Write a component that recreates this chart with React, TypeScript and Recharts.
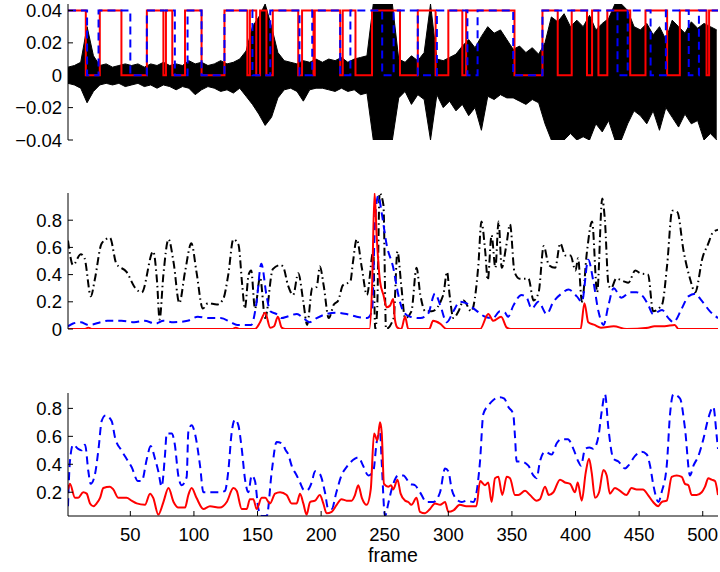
import { ComposedChart, Line, Area, XAxis, YAxis } from "recharts";

const FONT = "'Liberation Sans', Arial, Helvetica, sans-serif";

// axis ticks
const frameTicks = [50, 100, 150, 200, 250, 300, 350, 400, 450, 500];
const waveTicks = [126, 252, 377, 503];
const topYTicks = [-0.04, -0.02, 0, 0.02, 0.04];
const midYTicks = [0, 0.2, 0.4, 0.6, 0.8];
const lowYTicks = [0.2, 0.4, 0.6, 0.8];

// panel 1: waveform envelope (read per ~5 frames)
const waveFrames = [
  1, 6, 11, 16, 21, 26, 31, 36, 41, 46, 51, 56, 61, 66, 71, 76, 81, 86, 91, 96,
  101, 106, 111, 116, 121, 126, 131, 136, 141, 146, 151, 156, 161, 166, 171, 176, 181, 186, 191, 196,
  201, 206, 211, 216, 221, 226, 231, 236, 241, 246, 251, 256, 261, 266, 271, 276, 281, 286, 291, 296,
  301, 306, 311, 316, 321, 326, 331, 336, 341, 346, 351, 356, 361, 366, 371, 376, 381, 386, 391, 396,
  401, 406, 411, 416, 421, 426, 431, 436, 441, 446, 451, 456, 461, 466, 471, 476, 481, 486, 491, 496,
  501, 506, 511,
];
const waveHigh = [
  0.005, 0.006, 0.008, 0.03, 0.012, 0.006, 0.007, 0.005, 0.006, 0.007,
  0.006, 0.007, 0.005, 0.007, 0.006, 0.008, 0.006, 0.007, 0.006, 0.009,
  0.007, 0.008, 0.006, 0.007, 0.009, 0.007, 0.008, 0.01, 0.015, 0.03,
  0.036, 0.044, 0.03, 0.014, 0.009, 0.008, 0.007, 0.009, 0.008, 0.01,
  0.008, 0.01, 0.009, 0.011, 0.008, 0.01, 0.011, 0.012, 0.044, 0.044,
  0.044, 0.044, 0.01, 0.008, 0.012, 0.009, 0.014, 0.044, 0.01, 0.009,
  0.011, 0.013, 0.018, 0.022, 0.017, 0.024, 0.03, 0.026, 0.028, 0.022,
  0.016, 0.018, 0.014, 0.017, 0.013, 0.02, 0.036, 0.033, 0.038, 0.03,
  0.034, 0.03, 0.037, 0.028, 0.032, 0.035, 0.044, 0.044, 0.04, 0.03,
  0.028, 0.032, 0.025, 0.03, 0.022, 0.034, 0.03, 0.026, 0.033, 0.029,
  0.032, 0.03, 0.028,
];
const waveLow = [
  -0.005, -0.006, -0.008, -0.017, -0.01, -0.006, -0.005, -0.006, -0.005, -0.007,
  -0.006, -0.005, -0.007, -0.006, -0.008, -0.006, -0.007, -0.009, -0.007, -0.008,
  -0.012, -0.009, -0.007, -0.008, -0.01, -0.009, -0.011, -0.008, -0.013, -0.018,
  -0.024, -0.031, -0.026, -0.014, -0.009, -0.008, -0.01, -0.016, -0.009, -0.008,
  -0.008, -0.009, -0.01, -0.008, -0.01, -0.009, -0.012, -0.011, -0.04, -0.04,
  -0.04, -0.04, -0.014, -0.01, -0.018, -0.012, -0.015, -0.04, -0.012, -0.02,
  -0.016, -0.022, -0.018, -0.025, -0.02, -0.034, -0.013, -0.015, -0.012, -0.014,
  -0.014, -0.016, -0.018, -0.015, -0.017, -0.03, -0.04, -0.04, -0.04, -0.036,
  -0.04, -0.038, -0.04, -0.03, -0.035, -0.028, -0.04, -0.04, -0.03, -0.022,
  -0.025, -0.03, -0.022, -0.034, -0.02, -0.026, -0.032, -0.024, -0.03, -0.028,
  -0.04, -0.036, -0.04,
];

// panel 1: on/off decisions [frame, level]
const redGate: [number, number][] = [
  [1, 0.04], [15, 0], [26, 0.04], [43, 0], [63, 0.04], [76, 0], [78, 0.04], [83, 0],
  [93, 0.04], [106, 0], [124, 0.04], [142, 0], [144, 0.04], [149, 0], [152, 0.04], [157, 0],
  [162, 0.04], [182, 0], [185, 0.04], [194, 0], [195, 0.04], [215, 0], [217, 0.04], [227, 0],
  [240, 0.04], [262, 0], [276, 0.04], [290, 0], [300, 0.04], [311, 0], [314, 0.04], [352, 0],
  [374, 0.04], [386, 0], [397, 0.04], [409, 0], [413, 0.04], [418, 0], [425, 0.04], [443, 0],
  [455, 0.04], [472, 0], [482, 0.04], [503, 0], [505, 0.04], [512, 0.04],
];
const blueGate: [number, number][] = [
  [1, 0.04], [16, 0], [25, 0.04], [50, 0], [63, 0.04], [85, 0], [95, 0.04], [106, 0],
  [124, 0.04], [146, 0], [160, 0.04], [183, 0], [193, 0.04], [215, 0], [223, 0.04], [248, 0],
  [257, 0.04], [276, 0], [291, 0.04], [315, 0], [323, 0.04], [351, 0], [374, 0.04], [433, 0],
  [441, 0.04], [459, 0], [471, 0.04], [489, 0], [497, 0.04], [512, 0.04],
];

// panel 2
const midBlack: [number, number][] = [
  [1, 0.65], [5, 0.47], [11, 0.55], [14, 0.52], [19, 0.24], [22, 0.36], [27.5, 0.63], [34, 0.67],
  [39, 0.48], [47, 0.42], [54, 0.3], [59, 0.27], [68, 0.57], [71, 0.35], [73, 0.07], [76, 0.4],
  [80, 0.66], [84, 0.49], [88.5, 0.19], [93, 0.42], [98, 0.63], [102, 0.42], [107, 0.15], [111, 0.19],
  [118, 0.18], [123, 0.22], [127, 0.4], [131, 0.66], [135, 0.62], [138, 0.32], [140, 0.15], [143, 0.4],
  [145, 0.43], [148, 0.15], [152, 0.38], [156, 0.08], [162, 0.44], [168, 0.47], [170, 0.46], [174, 0.32],
  [178, 0.25], [182, 0.41], [186, 0.2], [189, 0.03], [193, 0.3], [196.5, 0.31], [199, 0.46], [202, 0.32],
  [206, 0.08], [210, 0.18], [213.5, 0.21], [217, 0.32], [223, 0.35], [225, 0.49], [228, 0.66], [232, 0.45],
  [236, 0.25], [241, 0.57], [242.5, 0.0], [244, 0.13], [246, 1.0], [249, 0.91], [251, 0.0], [257, 0.08],
  [260, 0.57], [263, 0.32], [266, 0.08], [271, 0.13], [275, 0.45], [278, 0.25], [282, 0.13], [287, 0.13],
  [296, 0.25], [299, 0.42], [301, 0.25], [304, 0.08], [308, 0.13], [312, 0.21], [318, 0.13], [323.6, 0.47],
  [326, 0.79], [329, 0.57], [331, 0.36], [334, 0.69], [337, 0.45], [339.5, 0.79], [342, 0.45], [345.5, 0.61],
  [348.5, 0.77], [352, 0.42], [356, 0.37], [363, 0.37], [367, 0.21], [371, 0.27], [375, 0.61], [379, 0.47],
  [384, 0.45], [388, 0.63], [392, 0.54], [396, 0.54], [400, 0.43], [402, 0.52], [405, 0.2], [409, 0.57],
  [413, 0.79], [417, 0.27], [421, 0.96], [423, 0.81], [426, 0.32], [428, 0.3], [432, 0.37], [438, 0.35],
  [441.5, 0.34], [447, 0.43], [451, 0.41], [457, 0.4], [461, 0.13], [468, 0.18], [472, 0.47], [476, 0.87],
  [480, 0.86], [485, 0.57], [490, 0.37], [494, 0.27], [500, 0.53], [504, 0.62], [508, 0.71], [512, 0.73],
];
const midBlue: [number, number][] = [
  [1, 0.02], [5, 0.04], [11, 0.05], [17, 0.03], [27, 0.05], [32, 0.06], [43, 0.06], [53, 0.05],
  [61, 0.06], [70, 0.04], [76, 0.06], [84, 0.05], [95, 0.06], [103, 0.09], [111, 0.08], [121, 0.08],
  [129, 0.05], [134, 0.03], [145, 0.03], [149, 0.18], [153, 0.48], [157, 0.25], [160, 0.13], [165, 0.11],
  [169, 0.08], [173, 0.09], [181, 0.11], [186, 0.08], [191, 0.05], [196.5, 0.08], [204, 0.11], [212, 0.12],
  [220, 0.11], [228, 0.09], [236, 0.08], [240, 0.13], [242.5, 0.81], [245, 0.98], [247.5, 0.86], [251.5, 0.62],
  [256.7, 0.45], [260.7, 0.25], [264.6, 0.13], [270, 0.09], [278, 0.08], [284, 0.11], [289.5, 0.26], [293.5, 0.18],
  [298.7, 0.05], [304, 0.13], [309, 0.2], [314, 0.19], [320, 0.15], [329, 0.09], [335, 0.08], [340.6, 0.13],
  [344.5, 0.12], [347, 0.09], [351, 0.17], [357.6, 0.25], [361.6, 0.23], [365.5, 0.15], [370.8, 0.2], [377.3, 0.11],
  [382.6, 0.2], [389, 0.26], [394.4, 0.29], [401, 0.24], [405, 0.2], [410, 0.51], [414, 0.35], [418, 0.13],
  [422, 0.03], [426, 0.18], [430, 0.3], [436, 0.23], [443, 0.27], [448, 0.27], [453, 0.24], [457, 0.18],
  [461, 0.11], [468, 0.14], [473, 0.08], [477, 0.05], [483.5, 0.15], [488.7, 0.24], [494, 0.26], [499, 0.21],
  [505.7, 0.13], [512, 0.08],
];
const midRed: [number, number][] = [
  [1, 0], [14, 0], [17, 0.01], [20, 0], [130, 0], [133, 0.01], [136, 0], [148, 0],
  [152, 0.05], [156, 0.12], [160, 0.01], [163, 0.02], [166, 0.09], [169, 0.01], [172, 0], [238, 0],
  [240, 0.3], [242, 1.0], [243.7, 0.68], [246.3, 0.35], [249, 0.25], [251.5, 0.16], [254, 0.17], [256.7, 0.22],
  [258, 0.07], [260, 0.01], [263, 0], [266, 0.09], [268.5, 0], [285, 0], [288, 0.06], [293.5, 0.04],
  [298.7, 0], [325, 0], [331.4, 0.11], [335.4, 0.06], [341.5, 0.09], [346, 0.01], [349, 0], [404, 0],
  [407, 0.19], [410, 0.05], [415, 0.03], [420, 0.01], [430, 0.02], [440, 0], [457, 0.01], [462, 0.02],
  [470, 0.02], [478, 0.03], [481, 0], [512, 0],
];

// panel 3
const lowBlue: [number, number][] = [
  [1, 0.1], [2.5, 0.42], [5, 0.54], [9, 0.51], [11.7, 0.5], [14.4, 0.54], [17, 0.35], [18.8, 0.26],
  [22, 0.32], [25, 0.51], [27.5, 0.71], [30.6, 0.75], [35.3, 0.71], [38, 0.59], [43, 0.5], [47, 0.44],
  [51, 0.38], [56, 0.28], [59, 0.28], [63, 0.44], [66, 0.53], [69.4, 0.44], [72, 0.35], [74.6, 0.24],
  [77.2, 0.46], [78.6, 0.62], [82.5, 0.62], [85, 0.54], [87.7, 0.32], [90.4, 0.25], [94.3, 0.31], [95.6, 0.63],
  [98.2, 0.68], [100.8, 0.62], [104.8, 0.39], [107.4, 0.2], [112.6, 0.2], [120.5, 0.2], [124.4, 0.21], [127, 0.35],
  [129.7, 0.63], [132.3, 0.72], [134.9, 0.68], [137.6, 0.51], [140.2, 0.29], [142.8, 0.2], [145.4, 0.32], [148, 0.28],
  [150.7, 0.08], [153.3, 0.03], [157.2, 0.03], [161.2, 0.35], [165, 0.56], [170.4, 0.54], [171.6, 0.51], [174.2, 0.47],
  [176.8, 0.39], [180.8, 0.32], [183.4, 0.27], [186, 0.22], [188.6, 0.21], [192.6, 0.27], [195.2, 0.35], [199, 0.33],
  [203, 0.2], [205.6, 0.08], [208.3, 0.08], [212, 0.2], [216, 0.32], [220, 0.38], [226.6, 0.44], [229.2, 0.45],
  [233, 0.39], [237, 0.32], [241, 0.35], [243.7, 0.56], [246.3, 0.63], [247.6, 0.42], [250.2, 0.03], [252.8, 0.12],
  [255.4, 0.22], [260.7, 0.32], [264.6, 0.32], [270, 0.26], [273.8, 0.25], [277.7, 0.2], [283, 0.13], [288.2, 0.13],
  [293.5, 0.2], [297.4, 0.37], [300, 0.35], [302.7, 0.22], [306.6, 0.15], [310.5, 0.13], [314.4, 0.14], [319.7, 0.13],
  [324.9, 0.42], [327.5, 0.76], [331.4, 0.82], [335.4, 0.86], [340.6, 0.88], [344, 0.87], [347.2, 0.81], [351, 0.76],
  [352.4, 0.6], [353.7, 0.42], [357, 0.42], [362.9, 0.39], [366.8, 0.32], [369.4, 0.3], [372, 0.42], [376, 0.49],
  [381.3, 0.47], [385.2, 0.55], [389, 0.58], [394, 0.58], [398.3, 0.51], [402.2, 0.42], [404.3, 0.39], [407.5, 0.51],
  [411, 0.52], [414, 0.51], [418, 0.6], [420.6, 0.78], [423.2, 0.9], [425.8, 0.66], [429.8, 0.44], [433.7, 0.42],
  [438.9, 0.37], [441.5, 0.39], [446.8, 0.46], [452, 0.49], [456, 0.47], [458.6, 0.39], [461.2, 0.25], [465.2, 0.13],
  [467.7, 0.2], [471.7, 0.39], [474.3, 0.76], [476.9, 0.9], [482.2, 0.87], [486, 0.66], [490, 0.32], [492.7, 0.39],
  [496.6, 0.46], [500.5, 0.58], [504.4, 0.73], [508.3, 0.81], [511, 0.6], [512, 0.51],
];
const lowRed: [number, number][] = [
  [1, 0.22], [2.5, 0.26], [6.5, 0.16], [9, 0.16], [13, 0.2], [15.7, 0.19], [18.3, 0.12], [21, 0.1],
  [23.5, 0.12], [26.2, 0.16], [28.8, 0.23], [34, 0.24], [36.6, 0.22], [40.6, 0.16], [47, 0.16], [51, 0.14],
  [55, 0.12], [61.5, 0.11], [65.5, 0.19], [68, 0.16], [72, 0.04], [76, 0.13], [80, 0.23], [84, 0.13],
  [87.7, 0.09], [93, 0.09], [95.6, 0.18], [98.2, 0.23], [102, 0.16], [107.4, 0.08], [112.6, 0.1], [120.5, 0.09],
  [125.8, 0.13], [131, 0.23], [133.6, 0.21], [137.6, 0.08], [141.5, 0.08], [144, 0.15], [146.7, 0.15], [149.3, 0.08],
  [153.3, 0.16], [156, 0.16], [159.8, 0.12], [163.8, 0.19], [167.7, 0.2], [172.9, 0.18], [176.8, 0.12], [180.8, 0.12],
  [183.4, 0.19], [186, 0.12], [188.6, 0.04], [191.3, 0.13], [195.2, 0.14], [199, 0.18], [201.7, 0.12], [204.3, 0.05],
  [208.3, 0.06], [212.2, 0.11], [216, 0.15], [220, 0.14], [224, 0.14], [226.6, 0.18], [229.2, 0.25], [232, 0.16],
  [235.8, 0.11], [239, 0.22], [241.6, 0.62], [244.2, 0.57], [246.3, 0.7], [247.6, 0.63], [249.4, 0.26], [252.8, 0.24],
  [255, 0.25], [256.7, 0.22], [260, 0.29], [262.5, 0.19], [266, 0.14], [268.5, 0.13], [271, 0.11], [275, 0.16],
  [277.7, 0.06], [281.7, 0.05], [285.6, 0.08], [289.5, 0.12], [293.5, 0.11], [297.4, 0.13], [300, 0.06], [304, 0.07],
  [309, 0.11], [314, 0.1], [322, 0.1], [325, 0.28], [328.8, 0.25], [331.4, 0.27], [334, 0.13], [336.7, 0.3],
  [339.3, 0.31], [342.4, 0.18], [345.9, 0.31], [348.5, 0.3], [352.4, 0.18], [355, 0.18], [360.3, 0.21], [364.2, 0.18],
  [369.4, 0.14], [372, 0.15], [376, 0.24], [379, 0.18], [382.6, 0.2], [387.8, 0.29], [391.7, 0.27], [395.7, 0.26],
  [399.6, 0.2], [401.7, 0.27], [404.9, 0.14], [408, 0.34], [410.6, 0.44], [412.7, 0.34], [415.3, 0.16], [418.5, 0.2],
  [421.9, 0.36], [424.5, 0.32], [427, 0.19], [431, 0.23], [435, 0.21], [440, 0.18], [444, 0.23], [448, 0.22],
  [453, 0.22], [457, 0.18], [461, 0.13], [465, 0.1], [467.7, 0.13], [471.7, 0.14], [475.6, 0.31], [479.5, 0.32],
  [483.5, 0.31], [486, 0.26], [488.7, 0.25], [491.3, 0.18], [495.2, 0.18], [499.2, 0.2], [501.8, 0.24], [504.4, 0.3],
  [507, 0.29], [509.6, 0.28], [512, 0.18],
];

const toPoints = (pairs: [number, number][]) => pairs.map(([f, v]) => ({ f, v }));
const waveData = waveFrames.map((f, i) => ({ f, band: [waveLow[i], waveHigh[i]] }));

const tickStyle = { fontSize: 18.5, fill: "#000", fontFamily: FONT };
const line = { stroke: "#000", strokeWidth: 1 };
const blank = () => "";

const fmtTop = (v: number) =>
  v === 0 ? "0" : (v < 0 ? "\u2212" : "") + Math.abs(v).toFixed(2);
const fmtOne = (v: number) => (v === 0 ? "0" : v.toFixed(1));

function frameAxes(ticks: number[], labels: boolean, bottomHeight: number) {
  return [
    <XAxis
      key="xb"
      xAxisId="b"
      type="number"
      dataKey="f"
      domain={[1, 512]}
      allowDataOverflow
      ticks={ticks}
      interval={0}
      height={bottomHeight}
      tickSize={-5}
      tickMargin={labels ? 17 : 0}
      tickFormatter={labels ? (v: number) => String(v) : blank}
      tick={tickStyle}
      axisLine={line}
      tickLine={line}
      label={
        labels
          ? { value: "frame", position: "insideBottom", offset: 10, style: { fontSize: 19.5, fill: "#000", fontFamily: FONT } }
          : undefined
      }
    />,
    <XAxis
      key="xt"
      xAxisId="t"
      orientation="top"
      type="number"
      dataKey="f"
      domain={[1, 512]}
      allowDataOverflow
      ticks={ticks}
      interval={0}
      height={0}
      tickSize={-5}
      tickFormatter={blank}
      axisLine={line}
      tickLine={line}
    />,
  ];
}

function valueAxes(domain: [number, number], ticks: number[], fmt: (v: number) => string) {
  return [
    <YAxis
      key="yl"
      yAxisId="l"
      type="number"
      domain={domain}
      allowDataOverflow
      ticks={ticks}
      interval={0}
      width={68}
      tickSize={-5}
      tickMargin={11}
      tickFormatter={fmt}
      tick={tickStyle}
      axisLine={line}
      tickLine={line}
    />,
    <YAxis
      key="yr"
      yAxisId="r"
      orientation="right"
      type="number"
      domain={domain}
      allowDataOverflow
      ticks={ticks}
      interval={0}
      width={0}
      tickSize={-5}
      tickFormatter={blank}
      axisLine={line}
      tickLine={line}
    />,
  ];
}

const margin = { top: 4, right: 2, bottom: 12, left: 0 };

export default function App() {
  return (
    <div style={{ position: "absolute", left: 0, top: 0, width: 720, height: 572, background: "#fff" }}>
      <div style={{ position: "absolute", left: 0, top: 0 }}>
        <ComposedChart width={720} height={152} margin={margin}>
          {frameAxes(waveTicks, false, 0)}
          {valueAxes([-0.04, 0.044], topYTicks, fmtTop)}
          <Area
            xAxisId="b"
            yAxisId="l"
            data={waveData}
            dataKey="band"
            type="linear"
            stroke="#000"
            strokeWidth={1}
            fill="#000"
            fillOpacity={1}
            isAnimationActive={false}
            dot={false}
            activeDot={false}
          />
          <Line
            xAxisId="b"
            yAxisId="l"
            data={toPoints(redGate)}
            dataKey="v"
            type="stepAfter"
            stroke="#ff0000"
            strokeWidth={2}
            dot={false}
            isAnimationActive={false}
          />
          <Line
            xAxisId="b"
            yAxisId="l"
            data={toPoints(blueGate)}
            dataKey="v"
            type="stepAfter"
            stroke="#0000ff"
            strokeWidth={2}
            strokeDasharray="8 5"
            dot={false}
            isAnimationActive={false}
          />
        </ComposedChart>
      </div>

      <div style={{ position: "absolute", left: 0, top: 189 }}>
        <ComposedChart width={720} height={152} margin={margin}>
          {frameAxes(frameTicks, false, 0)}
          {valueAxes([0, 1], midYTicks, fmtOne)}
          <Line
            xAxisId="b"
            yAxisId="l"
            data={toPoints(midBlack)}
            dataKey="v"
            type="monotone"
            stroke="#000"
            strokeWidth={2}
            strokeDasharray="8 3.5 1.5 3.5"
            dot={false}
            isAnimationActive={false}
          />
          <Line
            xAxisId="b"
            yAxisId="l"
            data={toPoints(midBlue)}
            dataKey="v"
            type="monotone"
            stroke="#0000ff"
            strokeWidth={2}
            strokeDasharray="8 5"
            dot={false}
            isAnimationActive={false}
          />
          <Line
            xAxisId="b"
            yAxisId="l"
            data={toPoints(midRed)}
            dataKey="v"
            type="monotone"
            stroke="#ff0000"
            strokeWidth={2}
            dot={false}
            isAnimationActive={false}
          />
        </ComposedChart>
      </div>

      <div style={{ position: "absolute", left: 0, top: 389 }}>
        <ComposedChart width={720} height={183} margin={{ top: 4, right: 2, bottom: 0, left: 0 }}>
          {frameAxes(frameTicks, true, 56)}
          {valueAxes([0.03, 0.91], lowYTicks, fmtOne)}
          <Line
            xAxisId="b"
            yAxisId="l"
            data={toPoints(lowBlue)}
            dataKey="v"
            type="monotone"
            stroke="#0000ff"
            strokeWidth={2}
            strokeDasharray="8 5"
            dot={false}
            isAnimationActive={false}
          />
          <Line
            xAxisId="b"
            yAxisId="l"
            data={toPoints(lowRed)}
            dataKey="v"
            type="monotone"
            stroke="#ff0000"
            strokeWidth={2}
            dot={false}
            isAnimationActive={false}
          />
        </ComposedChart>
      </div>
    </div>
  );
}
